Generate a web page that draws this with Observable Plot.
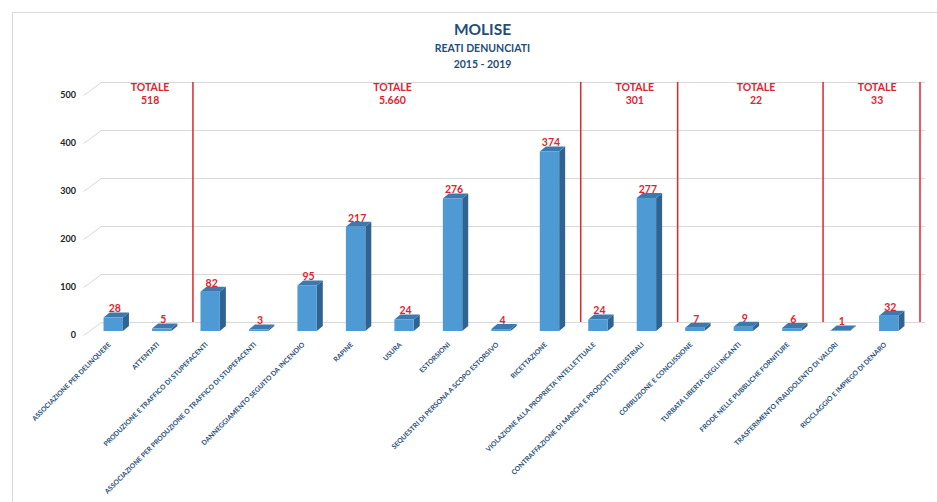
<!DOCTYPE html>
<html>
<head>
<meta charset="utf-8">
<script src="https://cdn.jsdelivr.net/npm/d3@7"></script>
<script src="https://cdn.jsdelivr.net/npm/@observablehq/plot@0.6"></script>
<style>
  html, body { margin: 0; padding: 0; background: #fff; }
  #wrap { position: relative; width: 937px; height: 502px; overflow: hidden; }
  #border { position: absolute; left: 12px; top: 12px; right: -5px; bottom: -5px;
            border-top: 1px solid #d9d9d9; border-left: 1px solid #d9d9d9; pointer-events: none; }
</style>
</head>
<body>
<div id="wrap"><div id="border"></div></div>
<script>
// ---- data ----
const categories = [
  "ASSOCIAZIONE PER DELINQUERE",
  "ATTENTATI",
  "PRODUZIONE E TRAFFICO DI STUPEFACENTI",
  "ASSOCIAZIONE PER PRODUZIONE O TRAFFICO DI STUPEFACENTI",
  "DANNEGGIAMENTO SEGUITO DA INCENDIO",
  "RAPINE",
  "USURA",
  "ESTORSIONI",
  "SEQUESTRI DI PERSONA A SCOPO ESTORSIVO",
  "RICETTAZIONE",
  "VIOLAZIONE ALLA PROPRIETA' INTELLETTUALE",
  "CONTRAFFAZIONE DI MARCHI E PRODOTTI INDUSTRIALI",
  "CORRUZIONE E CONCUSSIONE",
  "TURBATA LIBERTA' DEGLI INCANTI",
  "FRODE NELLE PUBBLICHE FORNITURE",
  "TRASFERIMENTO FRAUDOLENTO DI VALORI",
  "RICICLAGGIO E IMPIEGO DI DENARO"
];
const values = [28, 5, 82, 3, 95, 217, 24, 276, 4, 374, 24, 277, 7, 9, 6, 1, 32];
const groupFirst = [0, 2, 10, 12, 15];
const groupLast  = [1, 9, 11, 14, 16];
const groupTotals = ["518", "5.660", "301", "22", "33"];
const yTicks = [0, 100, 200, 300, 400, 500];
const titleLines = ["MOLISE", "REATI DENUNCIATI", "2015 - 2019"];

// ---- derived tables ----
const rows = categories.map((name, i) => ({i, name, value: values[i]}));
const groups = groupTotals.map((t, g) => ({first: groupFirst[g], last: groupLast[g], total: t}));

const W = 937, H = 502;
const xRange = [89, 913], yRange = [331, 91];
const xDomain = [-0.5, categories.length - 0.5], yDomain = [0, 500];
const kx = (xRange[1] - xRange[0]) / (xDomain[1] - xDomain[0]); // px per category
const ky = (yRange[0] - yRange[1]) / (yDomain[1] - yDomain[0]); // px per unit
const half = 0.2;               // half bar width (category units)
const dX = 6 / kx, dY = 5 / ky; // bar depth in data units

const topPts = rows.flatMap(d => [
  {z: d.i, x: d.i - half,      y1: d.value,      y2: d.value},
  {z: d.i, x: d.i - half + dX, y1: d.value,      y2: d.value + dY},
  {z: d.i, x: d.i + half,      y1: d.value,      y2: d.value + dY},
  {z: d.i, x: d.i + half + dX, y1: d.value + dY, y2: d.value + dY}
]);
const sidePts = rows.flatMap(d => [
  {z: d.i, x: d.i + half,      y1: 0,  y2: d.value},
  {z: d.i, x: d.i + half + dX, y1: dY, y2: d.value + dY}
]);

const red = "#dc2430";
const navy = "#1f4e79";

const chart = Plot.plot({
  width: W, height: H,
  marginTop: 0, marginRight: 0, marginBottom: 0, marginLeft: 0,
  style: {fontFamily: "Lato, 'Open Sans', sans-serif", background: "transparent"},
  x: {type: "linear", domain: xDomain, range: xRange, axis: null},
  y: {type: "linear", domain: yDomain, range: yRange, axis: null},
  marks: [
    // back-wall gridlines
    Plot.ruleY(yTicks, {y: d => d, x1: xDomain[0], x2: xDomain[1], dx: 12, dy: -9, stroke: "#d9d9d9", strokeWidth: 1}),
    // side-wall diagonals
    Plot.link(yTicks, {
      x1: () => xDomain[0] - 6 / kx, y1: d => d - 4 / ky,
      x2: () => xDomain[0] + 12 / kx, y2: d => d + 9 / ky,
      stroke: "#d9d9d9", strokeWidth: 1
    }),
    // group separators
    Plot.ruleX(groups, {x: d => d.last + 0.5, y1: 0, y2: 500, dx: 6.5, dy: -9, stroke: "#e0252b", strokeWidth: 1.5}),
    // group totals
    Plot.text(groups, {
      x: d => (d.first + d.last) / 2 + 0.25, y: 500,
      text: d => "TOTALE\n" + d.total,
      lineAnchor: "top", dy: -9, lineHeight: 1.2,
      fill: red, fontWeight: "bold", fontSize: 10.5
    }),
    // 3D bars: side, top, front
    Plot.areaY(sidePts, {x: "x", y1: "y1", y2: "y2", z: "z", fill: "#2f6391"}),
    Plot.areaY(topPts, {x: "x", y1: "y1", y2: "y2", z: "z", fill: "#3c79ae"}),
    Plot.rectY(rows, {x1: d => d.i - half, x2: d => d.i + half, y1: 0, y2: "value", fill: "#4e9ad4"}),
    // value labels
    Plot.text(rows, {x: "i", y: "value", text: d => String(d.value), dy: -9, dx: 1,
      fill: red, fontWeight: "bold", fontSize: 10.5}),
    // y tick labels
    Plot.text(yTicks, {x: xDomain[0], y: d => d, text: d => String(d), dx: -13.5, dy: 4,
      textAnchor: "end", fill: "#222", fontWeight: "bold", fontSize: 9}),
    // x category labels
    Plot.text(rows, {x: "i", y: 0, text: "name", rotate: -45, textAnchor: "end",
      dx: -4, dy: 12, fill: navy, fontWeight: "bold", fontSize: 6.8}),
    // title
    Plot.text([titleLines[0]], {frameAnchor: "top", dx: 13.5, dy: 30, lineAnchor: "middle",
      fill: navy, fontWeight: "bold", fontSize: 15.5}),
    Plot.text([titleLines[1]], {frameAnchor: "top", dx: 13.5, dy: 48.5, lineAnchor: "middle",
      fill: navy, fontWeight: "bold", fontSize: 10.5}),
    Plot.text([titleLines[2]], {frameAnchor: "top", dx: 13.5, dy: 64, lineAnchor: "middle",
      fill: navy, fontWeight: "bold", fontSize: 10.5})
  ]
});
document.getElementById("wrap").appendChild(chart);
chart.style.position = "absolute";
chart.style.left = "0";
chart.style.top = "0";
</script>
</body>
</html>
